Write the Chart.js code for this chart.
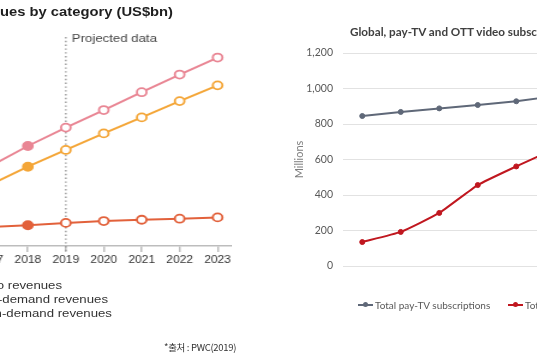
<!DOCTYPE html>
<html>
<head>
<meta charset="utf-8">
<script src="https://cdn.jsdelivr.net/npm/chart.js@4.4.1/dist/chart.umd.min.js"></script>
<style>
html,body{margin:0;padding:0;background:#fff;}
body{width:537px;height:360px;overflow:hidden;position:relative;}
#leftWrap{position:absolute;left:0;top:0;width:447.5px;height:360px;transform:scaleX(1.2);transform-origin:0 0;}
#leftBox{position:absolute;left:-40px;top:0;width:233px;height:275px;}
#rightBox{position:absolute;left:280px;top:0;width:294px;height:290px;}
.ltitle{position:absolute;right:303.3px;top:5px;white-space:nowrap;font:bold 12.3px 'Liberation Sans',Arial,sans-serif;color:#1e1e1e;line-height:14px;}
.lrow{position:absolute;white-space:nowrap;font:11px 'Liberation Sans',Arial,sans-serif;color:#333;line-height:14px;}
.lrow .mk{display:inline-block;width:18px;height:2px;vertical-align:middle;margin-right:6px;}
.rtitle{position:absolute;left:350px;top:23px;white-space:nowrap;font:bold 11.7px Lato,sans-serif;color:#404040;line-height:16px;}
.rleg{position:absolute;top:299px;white-space:nowrap;font:10px Lato,sans-serif;color:#595959;line-height:12px;height:12px;}
.rleg .mk{display:inline-block;position:relative;width:15px;height:2px;vertical-align:middle;margin-right:2px;top:-1px;}
.rleg .mk::after{content:"";position:absolute;left:5px;top:-2px;width:5px;height:5px;border-radius:50%;background:inherit;}
.src{position:absolute;left:164px;top:340px;white-space:nowrap;font:9.5px 'Noto Sans CJK KR',sans-serif;color:#333;line-height:14px;letter-spacing:-0.3px;}
</style>
</head>
<body>
<div id="leftWrap">
  <div class="ltitle">OTT video revenues by category (US$bn)</div>
  <div id="leftBox"><canvas id="leftChart"></canvas></div>
  <div class="lrow" style="right:395.8px;top:278px"><span class="mk" style="background:#e98694"></span>Total over-the-top video revenues</div>
  <div class="lrow" style="right:357.5px;top:292px"><span class="mk" style="background:#f4a638"></span>Subscription video-on-demand revenues</div>
  <div class="lrow" style="right:354.2px;top:306px"><span class="mk" style="background:#e2613b"></span>Transactional video-on-demand revenues</div>
</div>
<div class="src">*출처 : PWC(2019)</div>

<div class="rtitle">Global, pay-TV and OTT video subscriptions</div>
<div id="rightBox"><canvas id="rightChart"></canvas></div>
<div class="rleg" style="left:358px"><span class="mk" style="background:#5f6878"></span>Total pay-TV subscriptions</div>
<div class="rleg" style="left:508px"><span class="mk" style="background:#c0171f"></span>Total OTT video subscriptions</div>

<script>
// ---------- Left chart data (US$bn) ----------
const revYears = [2017, 2018, 2019, 2020, 2021, 2022, 2023];
const revTickYears = [2016, 2017, 2018, 2019, 2020, 2021, 2022, 2023];
const lastActualYear = 2018;
const projectionStart = 2019;
const totalOttRevenue = [30.3, 38.1, 45.1, 51.8, 58.6, 65.3, 71.8];
const svodRevenue = [23.3, 30.2, 36.6, 42.9, 49.0, 55.2, 61.2];
const tvodRevenue = [7.2, 7.9, 8.8, 9.5, 10.0, 10.4, 10.9];
const revSeriesNames = ['Total over-the-top video revenues', 'Subscription video-on-demand revenues', 'Transactional video-on-demand revenues'];

// ---------- Right chart data (millions) ----------
const subYears = ['2014', '2015', '2016', '2017', '2018', '2019'];
const payTvSubs = [845, 868, 888, 907, 928, 957];
const ottSubs = [135, 192, 299, 456, 561, 660];
const subSeriesNames = ['Total pay-TV subscriptions', 'Total OTT video subscriptions'];

const toPoints = (xs, ys) => xs.map((x, i) => ({x: x, y: ys[i]}));

function revDataset(label, values, color) {
  return {
    label: label,
    data: toPoints(revYears, values),
    borderColor: color,
    borderWidth: 2,
    pointRadius: 4,
    pointBorderWidth: 1.8,
    pointBorderColor: color,
    pointBackgroundColor: ctx => (revYears[ctx.dataIndex] <= lastActualYear ? color : '#ffffff'),
    tension: 0
  };
}

const projectionPlugin = {
  id: 'projection',
  beforeDatasetsDraw(chart) {
    const x = chart.scales.x.getPixelForValue(projectionStart);
    const {top, bottom} = chart.chartArea;
    const ctx = chart.ctx;
    ctx.save();
    ctx.strokeStyle = '#9a9a9a';
    ctx.lineWidth = 1.4;
    ctx.setLineDash([1.4, 2.4]);
    ctx.beginPath();
    ctx.moveTo(x, top + 1);
    ctx.lineTo(x, bottom + 5);
    ctx.stroke();
    ctx.setLineDash([]);
    ctx.fillStyle = '#444';
    ctx.font = "11px 'Liberation Sans', Arial, sans-serif";
    ctx.textAlign = 'left';
    ctx.textBaseline = 'alphabetic';
    ctx.fillText('Projected data', x + 5, top + 6);
    ctx.restore();
  }
};

new Chart(document.getElementById('leftChart'), {
  type: 'line',
  data: {
    datasets: [
      revDataset(revSeriesNames[0], totalOttRevenue, '#e98694'),
      revDataset(revSeriesNames[1], svodRevenue, '#f4a638'),
      revDataset(revSeriesNames[2], tvodRevenue, '#e2613b')
    ]
  },
  options: {
    responsive: true,
    maintainAspectRatio: false,
    animation: false,
    layout: {padding: {top: 36, bottom: 4, left: 0, right: 0}, autoPadding: false},
    plugins: {legend: {display: false}, tooltip: {enabled: false}},
    scales: {
      x: {
        type: 'linear',
        min: 2016,
        max: 2023.37,
        afterBuildTicks(scale) { scale.ticks = revTickYears.map(v => ({value: v})); },
        afterFit(scale) { scale.height = 25; scale.paddingLeft = 0; scale.paddingRight = 0; },
        ticks: {
          callback: v => String(v),
          color: '#333',
          font: {family: "'Liberation Sans', Arial, sans-serif", size: 10},
          padding: 2,
          autoSkip: false,
          maxRotation: 0
        },
        grid: {drawOnChartArea: false, drawTicks: true, tickLength: 6, color: '#bdbdbd', lineWidth: 1.5},
        border: {color: '#bdbdbd', width: 1.5}
      },
      y: {display: false, min: 0, max: 80}
    }
  },
  plugins: [projectionPlugin]
});

new Chart(document.getElementById('rightChart'), {
  type: 'line',
  data: {
    labels: subYears,
    datasets: [
      {label: subSeriesNames[0], data: payTvSubs, borderColor: '#5f6878', backgroundColor: '#5f6878', borderWidth: 2, pointRadius: 2.5, pointBorderWidth: 1, tension: 0},
      {label: subSeriesNames[1], data: ottSubs, borderColor: '#c0171f', backgroundColor: '#c0171f', borderWidth: 2, pointRadius: 2.5, pointBorderWidth: 1, tension: 0.15}
    ]
  },
  options: {
    responsive: true,
    maintainAspectRatio: false,
    animation: false,
    layout: {padding: {top: 53, bottom: 4, left: 0, right: 0}, autoPadding: false},
    plugins: {legend: {display: false}, tooltip: {enabled: false}},
    scales: {
      x: {
        offset: true,
        grid: {display: false},
        border: {display: false},
        ticks: {color: '#595959', font: {family: 'Lato', size: 10}, padding: 11, maxRotation: 0, autoSkip: false},
        afterFit(scale) { scale.height = 20; scale.paddingLeft = 0; scale.paddingRight = 0; }
      },
      y: {
        min: 0,
        max: 1200,
        ticks: {stepSize: 200, color: '#595959', font: {family: 'Lato', size: 10.5}, padding: 10},
        grid: {color: '#e2e2e2', drawTicks: false, lineWidth: 1},
        border: {display: false},
        title: {display: true, text: 'Millions', color: '#7f7f7f', font: {family: 'Lato', size: 11}, padding: {top: 13, bottom: 0}},
        afterFit(scale) { scale.width = 63; }
      }
    }
  }
});
</script>
</body>
</html>
